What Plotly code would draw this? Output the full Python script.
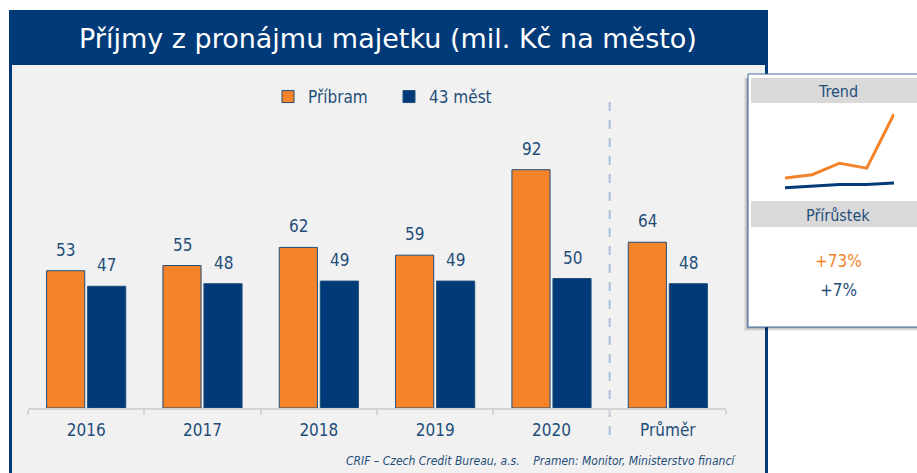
import plotly.graph_objects as go

W, H = 917, 473
OFF = 0
def px(x): return (x - OFF) / W
def py(y): return 1 - (y - OFF) / H

categories = ["2016", "2017", "2018", "2019", "2020", "Průměr"]
pribram = [53, 55, 62, 59, 92, 64]
mest43 = [47, 48, 49, 49, 50, 48]
trend_years = ["2016", "2017", "2018", "2019", "2020"]
growth_pribram = "+73%"
growth_43 = "+7%"
title = "Příjmy z pronájmu majetku (mil. Kč na město)"
footer = "CRIF – Czech Credit Bureau, a.s.    Pramen: Monitor, Ministerstvo financí"

ORANGE = "#f5832a"
NAVY = "#003a78"
TXT = "#1f4e79"
FONT = "DejaVu Sans Condensed, DejaVu Sans, Verdana, sans-serif"
FONT_T = "DejaVu Sans, Verdana, sans-serif"

fig = go.Figure()
fig.add_trace(go.Bar(x=categories, y=pribram, name="Příbram",
                     marker=dict(color=ORANGE, line=dict(color=TXT, width=1)),
                     hoverinfo="skip"))
fig.add_trace(go.Bar(x=categories, y=mest43, name="43 měst",
                     marker=dict(color=NAVY, line=dict(color=TXT, width=1)),
                     hoverinfo="skip"))

# sparklines
fig.add_trace(go.Scatter(x=trend_years, y=pribram[:5], mode="lines", xaxis="x2", yaxis="y2",
                         line=dict(color=ORANGE, width=3), showlegend=False, hoverinfo="skip"))
fig.add_trace(go.Scatter(x=trend_years, y=mest43[:5], mode="lines", xaxis="x2", yaxis="y2",
                         line=dict(color=NAVY, width=3), showlegend=False, hoverinfo="skip"))

y_bot, y_top = 408, 120
scale = 2.59
shapes = []
# outer frame
shapes.append(dict(type="rect", xref="paper", yref="paper", x0=px(9), x1=px(768), y0=py(490), y1=py(10),
                   fillcolor=NAVY, line=dict(width=0), layer="below"))
shapes.append(dict(type="rect", xref="paper", yref="paper", x0=px(12), x1=px(765), y0=py(490), y1=py(65),
                   fillcolor="#f1f1f1", line=dict(width=0), layer="below"))
# shadow of side box
for i, a in enumerate([0.06, 0.08, 0.10, 0.14]):
    o = 4 - i
    shapes.append(dict(type="rect", xref="paper", yref="paper", x0=px(748 - o), x1=px(935),
                       y0=py(327 + o), y1=py(78), fillcolor=f"rgba(0,0,0,{a})", line=dict(width=0), layer="below"))
shapes.append(dict(type="rect", xref="paper", yref="paper", x0=px(748), x1=px(935), y0=py(327), y1=py(74),
                   fillcolor="white", line=dict(color="#3f6aa6", width=1), layer="below"))
shapes.append(dict(type="rect", xref="paper", yref="paper", x0=px(751), x1=px(935), y0=py(103), y1=py(78),
                   fillcolor="#d9d9d9", line=dict(width=0), layer="below"))
shapes.append(dict(type="rect", xref="paper", yref="paper", x0=px(751), x1=px(935), y0=py(227), y1=py(201),
                   fillcolor="#d9d9d9", line=dict(width=0), layer="below"))
# dashed separator
shapes.append(dict(type="line", xref="x", yref="paper", x0=4.5, x1=4.5, y0=py(435), y1=py(95),
                   line=dict(color="#a9c0dc", width=2, dash="dash"), layer="below"))

def pann(text, x, y, size, color, family=FONT, xanchor="center"):
    return dict(text=text, x=px(x), y=py(y), xref="paper", yref="paper", showarrow=False,
                xanchor=xanchor, yanchor="middle", font=dict(size=size, color=color, family=family))

ann = []
ann.append(pann(title, 388, 38, 27, "white", FONT_T))
for i, v in enumerate(pribram):
    ann.append(dict(text=str(v), x=i, y=v, xref="x", yref="y", xshift=-20.5, yshift=9, showarrow=False,
                    xanchor="center", yanchor="bottom", font=dict(size=17, color=TXT, family=FONT)))
for i, v in enumerate(mest43):
    ann.append(dict(text=str(v), x=i, y=v, xref="x", yref="y", xshift=20.5, yshift=9, showarrow=False,
                    xanchor="center", yanchor="bottom", font=dict(size=17, color=TXT, family=FONT)))
ann.append(pann("Trend", 838, 92, 16, TXT))
ann.append(pann("Přírůstek", 838, 215, 16, TXT))
ann.append(pann(growth_pribram, 838, 261, 17, ORANGE))
ann.append(pann(growth_43, 838, 290, 17, TXT))
ann.append(pann(f"<i>{footer}</i>", 738, 461, 12, TXT, xanchor="right"))

fig.update_layout(
    width=W, height=H, autosize=False,
    margin=dict(l=0, r=0, t=0, b=0),
    paper_bgcolor="white", plot_bgcolor="rgba(0,0,0,0)",
    barmode="group", bargap=0.295, bargroupgap=0.07,
    font=dict(family=FONT, color=TXT),
    showlegend=True,
    legend=dict(orientation="h", x=px(268), y=py(97), xanchor="left", yanchor="middle",
                bgcolor="rgba(0,0,0,0)", font=dict(size=17, color=TXT, family=FONT),
                entrywidth=76, itemwidth=30),
    xaxis=dict(domain=[px(28), px(726)], type="category", range=[-0.5, len(categories) - 0.5],
               showgrid=False, zeroline=False,
               showline=True, linecolor="#d4d4d4", linewidth=2,
               ticks="outside", tickson="boundaries", ticklen=5, tickcolor="#d4d4d4", tickwidth=2,
               tickfont=dict(size=17, color=TXT, family=FONT), ticklabelstandoff=6, fixedrange=True),
    yaxis=dict(domain=[py(y_bot), py(y_top)], range=[0, (y_bot - y_top) / scale], visible=False, fixedrange=True),
    xaxis2=dict(domain=[px(785), px(894)], range=[0, 4], visible=False, anchor="y2", type="category",
                fixedrange=True),
    yaxis2=dict(domain=[py(190), py(110)], range=[53 - 12 / 1.64, 53 + 68 / 1.64], visible=False, anchor="x2",
                fixedrange=True),
    shapes=shapes, annotations=ann,
)
fig.write_html("out.html", config={"displayModeBar": False},
               post_script="document.body.style.margin='0';document.body.style.overflow='hidden';")
